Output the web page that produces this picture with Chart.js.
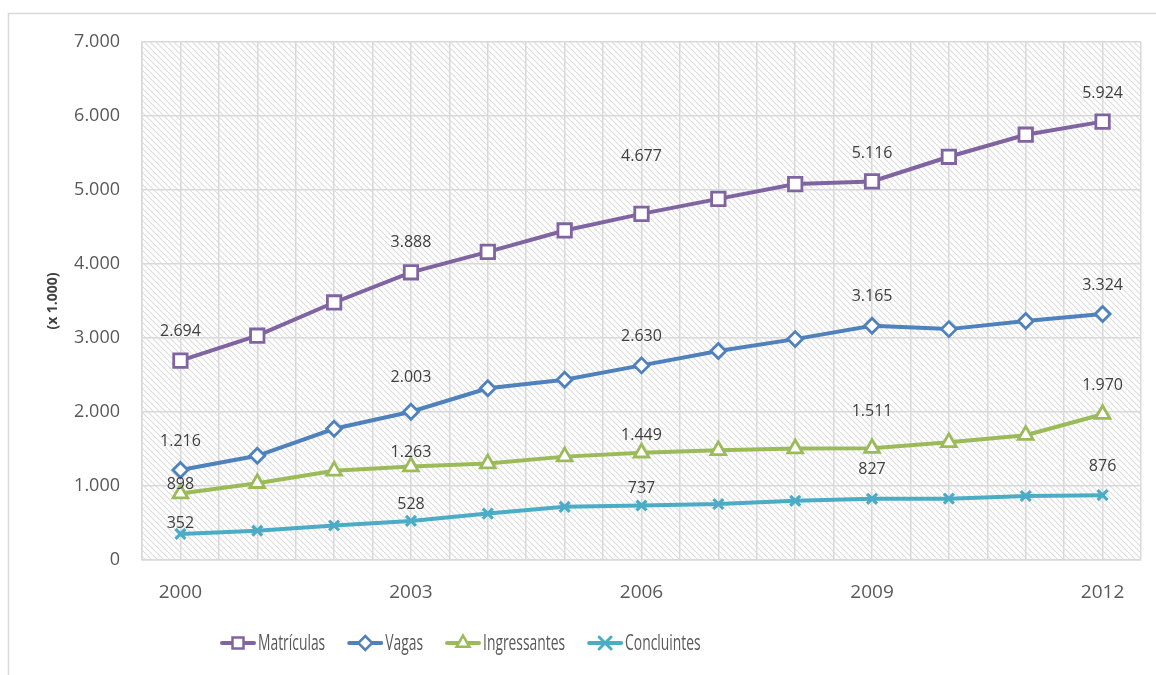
<!DOCTYPE html>
<html><head><meta charset="utf-8">
<script src="https://cdn.jsdelivr.net/npm/chart.js@4.4.1/dist/chart.umd.min.js"></script>
<style>html,body{margin:0;padding:0;background:#fff;}#wrap{width:1156px;height:675px;}</style>
</head><body><div id="wrap"><canvas id="c" width="1156" height="675"></canvas></div>
<script>
const years = ['2000','2001','2002','2003','2004','2005','2006','2007','2008','2009','2010','2011','2012'];
const matriculas = [2694,3031,3480,3888,4164,4453,4677,4880,5080,5116,5449,5747,5924];
const vagas = [1216,1408,1773,2003,2320,2436,2630,2824,2985,3165,3120,3229,3324];
const ingressantes = [898,1037,1205,1263,1303,1397,1449,1482,1506,1511,1590,1687,1970];
const concluintes = [352,396,466,528,627,718,737,757,800,827,829,865,876];
const seriesNames = ['Matrículas','Vagas','Ingressantes','Concluintes'];
const yTicks = [0,1000,2000,3000,4000,5000,6000,7000];
const labelYears = ['2000','2003','2006','2009','2012'];

const FONT = "'Open Sans', 'Liberation Sans', sans-serif";
const colors = ['#8064A2','#4F81BD','#9BBB59','#4BACC6'];
const styles = ['rect','rectRot','triangle','crossRot'];
const fmt = n => String(n).replace(/\B(?=(\d{3})+(?!\d))/g, '.');

function hatch(){
  const c=document.createElement('canvas'); c.width=c.height=6;
  const g=c.getContext('2d'); g.strokeStyle='#dcdcdc'; g.lineWidth=1.1;
  for (const o of [-6,0,6]) { g.beginPath(); g.moveTo(o,0); g.lineTo(o+6,6); g.stroke(); }
  return c;
}
function drawMarker(g, style, x, y, color){
  g.strokeStyle=color; g.fillStyle='#fff'; g.lineWidth=2.5;
  g.beginPath();
  if (style==='rect'){ g.rect(x-5.5,y-5.5,11,11); g.fill(); g.stroke(); }
  else if (style==='rectRot'){ const r=7; g.moveTo(x,y-r); g.lineTo(x+r,y); g.lineTo(x,y+r); g.lineTo(x-r,y); g.closePath(); g.fill(); g.stroke(); }
  else if (style==='triangle'){ const r=7.5; g.moveTo(x,y-r); g.lineTo(x+r*0.866,y+r*0.5); g.lineTo(x-r*0.866,y+r*0.5); g.closePath(); g.fill(); g.stroke(); }
  else { const r=6; g.lineWidth=3; g.moveTo(x-r,y-r); g.lineTo(x+r,y+r); g.moveTo(x+r,y-r); g.lineTo(x-r,y+r); g.stroke(); }
}
const pattern = document.getElementById('c').getContext('2d').createPattern(hatch(),'repeat');

const bgPlugin = {
  id:'bg',
  beforeDraw(chart){
    const {ctx, chartArea:a} = chart;
    ctx.save();
    ctx.strokeStyle='#d9d9d9'; ctx.lineWidth=1.5;
    ctx.strokeRect(8.5,13.5,1300,800);
    ctx.fillStyle=pattern;
    ctx.fillRect(a.left,a.top,a.right-a.left,a.bottom-a.top);
    ctx.restore();
  }
};
// legend drawn from the datasets, with condensed text like the original
const legendPlugin = {
  id:'condensedLegend',
  afterDraw(chart, args, opts){
    const ctx = chart.ctx;
    let x = opts.x; const y = opts.y;
    ctx.save();
    ctx.font = opts.size + 'px ' + FONT;
    ctx.textBaseline = 'middle'; ctx.textAlign = 'left';
    chart.data.datasets.forEach((ds, i) => {
      ctx.strokeStyle = ds.borderColor; ctx.lineWidth = 4; ctx.lineCap = 'round';
      ctx.beginPath(); ctx.moveTo(x + 2, y); ctx.lineTo(x + 34, y); ctx.stroke();
      drawMarker(ctx, ds.pointStyle, x + 18, y, ds.borderColor);
      const tx = x + 38;
      const w = ctx.measureText(ds.label).width * opts.scaleX;
      ctx.save();
      ctx.translate(tx, y); ctx.scale(opts.scaleX, 1);
      ctx.fillStyle = '#595959';
      ctx.fillText(ds.label, 0, 1);
      ctx.restore();
      x = tx + w + opts.gap;
    });
    ctx.restore();
  }
};
const labelPlugin = {
  id:'ptLabels',
  afterDatasetsDraw(chart, args, opts){
    const ctx=chart.ctx;
    ctx.save();
    ctx.font = '16px ' + FONT; ctx.fillStyle='#404040';
    ctx.textAlign='center'; ctx.textBaseline='middle';
    chart.data.datasets.forEach((ds, di) => {
      const meta = chart.getDatasetMeta(di);
      labelYears.forEach((yr, k) => {
        const idx = years.indexOf(yr);
        const el = meta.data[idx];
        ctx.fillText(fmt(ds.data[idx].y), el.x, el.y - opts.offsets[di][k]);
      });
    });
    ctx.restore();
  }
};

const seriesValues = [matriculas, vagas, ingressantes, concluintes];
const datasets = seriesValues.map((vals, i) => ({
  label: seriesNames[i],
  data: vals.map((v, j) => ({x: +years[j], y: v})),
  borderColor: colors[i], backgroundColor: colors[i],
  borderWidth: 4, tension: 0,
  pointStyle: styles[i],
  pointRadius: [9.5, 7.5, 8.5, 7][i],
  pointBorderWidth: [2.8, 2.8, 2.8, 3.2][i],
  pointBackgroundColor: '#fff', pointBorderColor: colors[i],
  clip: false
}));

new Chart(document.getElementById('c'), {
  type:'line',
  data:{ datasets },
  options:{
    responsive:false, animation:false, devicePixelRatio:1,
    layout:{ autoPadding:false, padding:{ left:40, top:42, right:15, bottom:60 } },
    scales:{
      x:{ type:'linear', min:1999.5, max:2012.5,
        afterBuildTicks(s){ const t=[]; for(let v=1999.5; v<=2012.5; v+=0.5) t.push({value:v}); s.ticks=t; },
        afterFit(s){ s.height=55; s.paddingLeft=0; s.paddingRight=0; },
        ticks:{ autoSkip:false, maxRotation:0, padding:21, color:'#595959', font:{family:FONT,size:19},
          callback:v => labelYears.includes(String(v)) ? String(v) : '' },
        grid:{ color:'#d9d9d9', lineWidth:1.5, drawTicks:false },
        border:{ color:'#d9d9d9', width:1.5 } },
      y:{ min:0, max:7000,
        afterBuildTicks(s){ s.ticks = yTicks.map(v => ({value:v})); },
        afterFit(s){ s.width=102; },
        ticks:{ padding:22, color:'#595959', font:{family:FONT,size:18}, callback:v => fmt(v) },
        grid:{ color:'#d9d9d9', lineWidth:1.5, drawTicks:false },
        border:{ color:'#d9d9d9', width:1.5 },
        title:{ display:true, text:'(x 1.000)', color:'#404040', font:{family:FONT,size:14,weight:'bold'}, padding:{top:5,bottom:0} } }
    },
    plugins:{
      tooltip:{enabled:false},
      legend:{ display:false },
      condensedLegend:{ x:220, y:643, size:22, scaleX:0.63, gap:22 },
      ptLabels:{ offsets:[[29,30,57,28,28],[29,34,29,29,29],[9,14,17,37,29],[11,16,17,29,29]] }
    }
  },
  plugins:[bgPlugin, labelPlugin, legendPlugin]
});
</script></body></html>
